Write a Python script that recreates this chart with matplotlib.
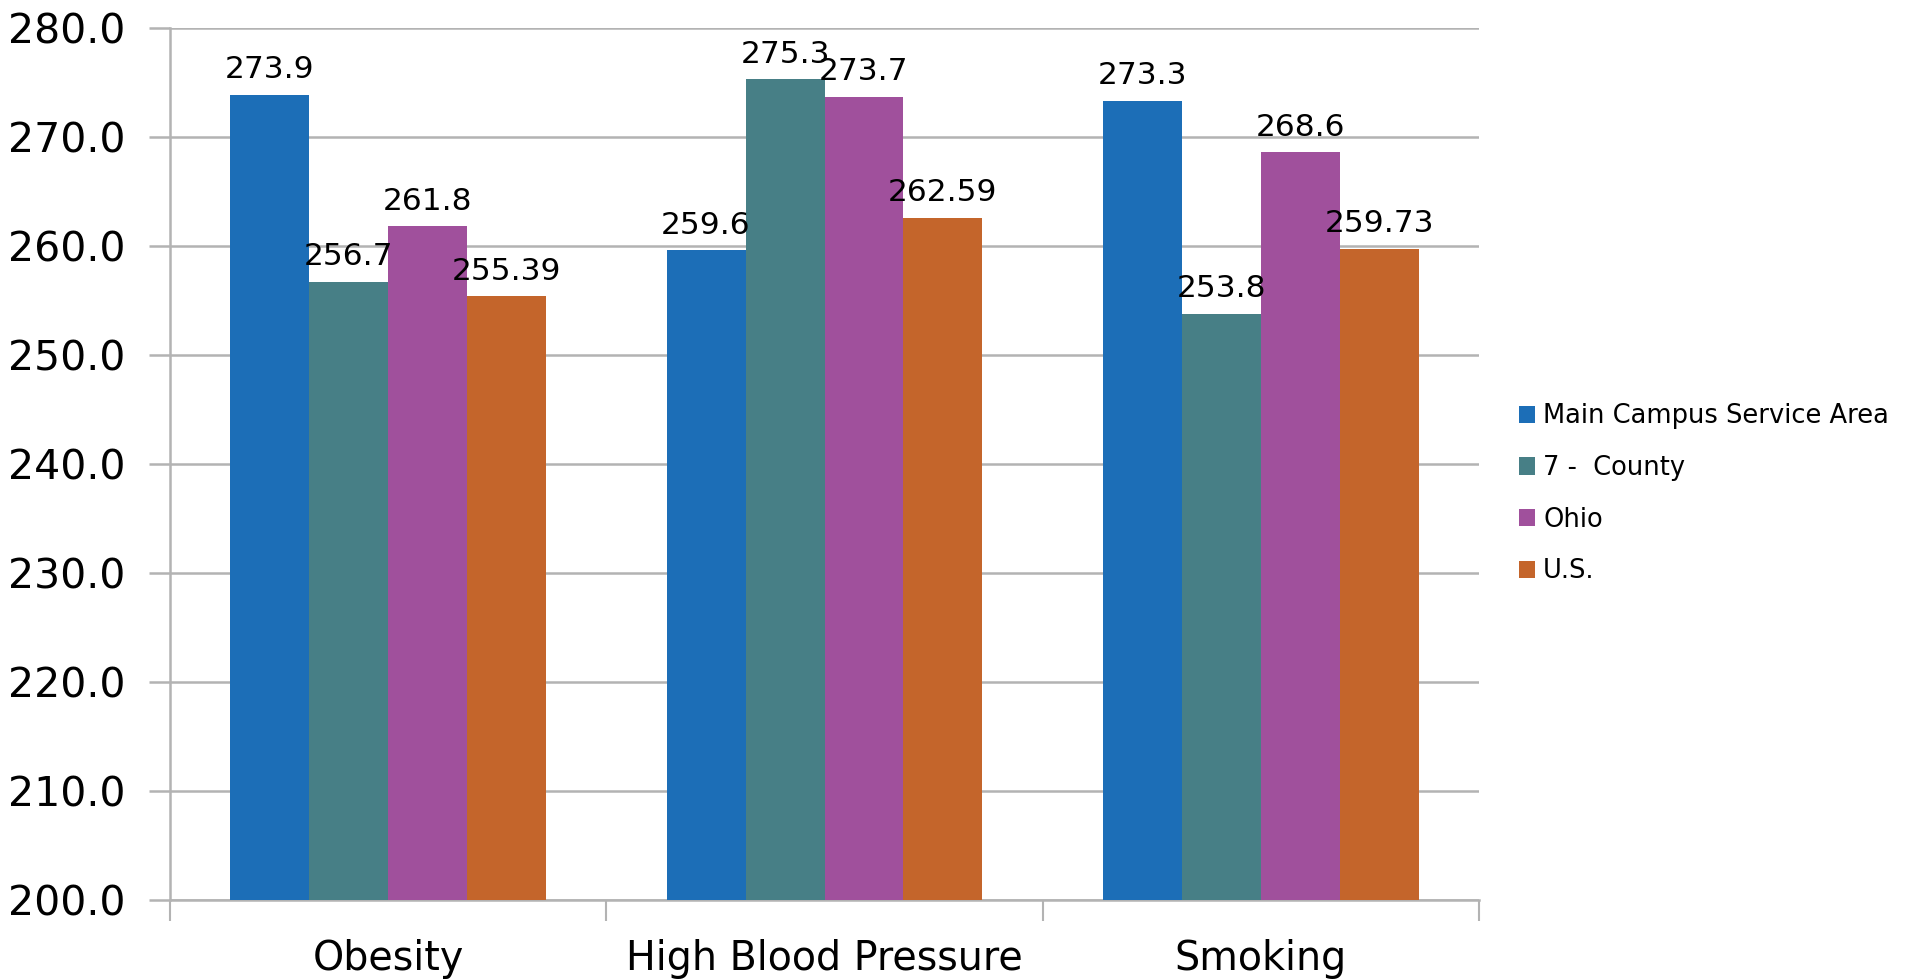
import numpy as np
import matplotlib
matplotlib.use("Agg")
import matplotlib.pyplot as plt
from matplotlib.ticker import FormatStrFormatter

# ----------------------------------------------------------------------------
# Data

categories = ["Obesity", "High Blood Pressure", "Smoking"]
series     = ["Main Campus Service Area", "7 -  County", "Ohio", "U.S."]

main_campus = [273.9, 259.6, 273.3]
county_7    = [256.7, 275.3, 253.8]
ohio        = [261.8, 273.7, 268.6]
us          = [255.39, 262.59, 259.73]

colors = ["#1c6eb7", "#477f86", "#a0509c", "#c4652b"]
grid_c = "#b3b3b3"

# ----------------------------------------------------------------------------
# Figure

fig = plt.figure(figsize=(19.15, 9.8), dpi=100)
ax  = fig.add_axes([0.0888, 0.0816, 0.6835, 0.8898])

x = np.arange(len(categories))
w = 0.181
data = [main_campus, county_7, ohio, us]

for i, (vals, name, c) in enumerate(zip(data, series, colors)):
    pos  = x + (i - 1.5)*w
    bars = ax.bar(pos, np.array(vals) - 200, w, bottom=200, color=c, label=name, zorder=3)
    for p, v in zip(pos, vals):
        ax.annotate(str(v), (p, v), xytext=(0, 12), textcoords="offset points",
                    ha="center", va="baseline", fontsize=22.5, color="black", zorder=4)

ax.set_ylim(200, 280)
ax.set_xlim(-0.5, len(categories) - 0.5)
ax.set_yticks(np.arange(200, 281, 10))
ax.yaxis.set_major_formatter(FormatStrFormatter("%.1f"))
ax.grid(axis="y", color=grid_c, lw=1.8, zorder=0)

# category boundaries as major ticks, names as minor ticks
ax.set_xticks(np.arange(-0.5, len(categories), 1.0))
ax.set_xticklabels([])
ax.set_xticks(x, minor=True)
ax.set_xticklabels(categories, minor=True, fontsize=28.5)
ax.tick_params(axis="x", which="major", length=15, width=1.5, color=grid_c)
ax.tick_params(axis="x", which="minor", length=0, pad=28)
ax.tick_params(axis="y", length=15, width=1.8, color=grid_c, labelsize=29.5, pad=17)

for s in ["top", "right"]:
    ax.spines[s].set_visible(False)
for s in ["left", "bottom"]:
    ax.spines[s].set_color(grid_c)
    ax.spines[s].set_linewidth(1.8)

fig.legend(loc="center left", bbox_to_anchor=(0.793, 0.496), frameon=False,
           fontsize=18.5, handlelength=0.65, handleheight=0.65, handletextpad=0.3,
           labelspacing=1.0, borderpad=0, borderaxespad=0)

fig.savefig("out.png", dpi=100)
